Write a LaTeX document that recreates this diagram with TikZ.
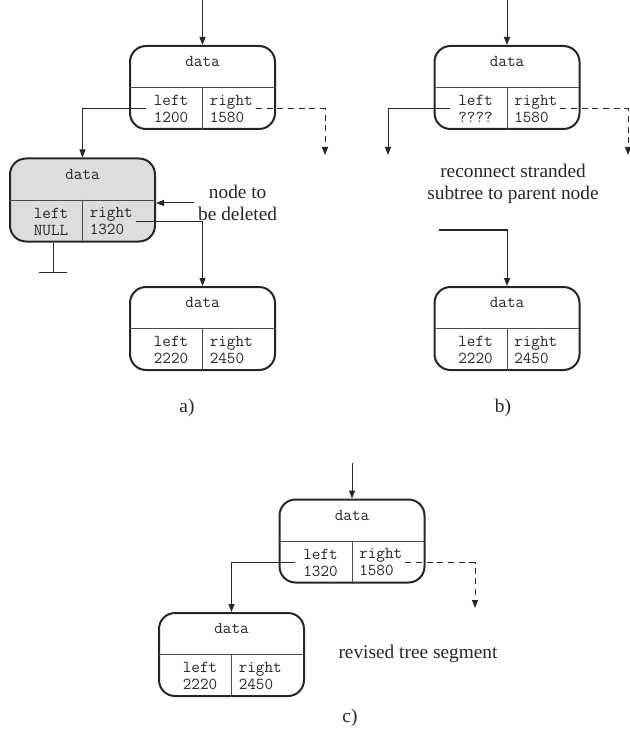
\documentclass[tikz,border=0pt]{standalone}
\usepackage{fontspec}
\setmainfont{Liberation Serif}
\usepackage{tikz}
\usetikzlibrary{arrows.meta}
\definecolor{boxgray}{RGB}{220,221,223}
\tikzset{
  rec/.style={draw=black!85,line width=1.5pt,rounded corners=12pt,minimum width=108.75pt,minimum height=62.25pt,inner sep=0pt},
  div/.style={draw=black!70,line width=0.6pt},
  cell/.style={font=\fontsize{12.5}{12.75}\selectfont\ttfamily,align=left,inner ysep=1pt,text=black!85},
  ptr/.style={draw=black!85,line width=0.75pt,-{Triangle[length=6pt,width=4.5pt]}},
  note/.style={font=\fontsize{14.5}{16}\selectfont,align=center,text=black!85}
}

\begin{document}
\begin{tikzpicture}[x=0.75pt,y=-0.75pt]
\useasboundingbox (0,0) rectangle (630,745);
\foreach \n/\x/\y/\l/\r/\f in {a1/202.5/87.5/1200/1580/white, a2/82.5/200/NULL/1320/boxgray, a3/202.5/328.5/2220/2450/white, b1/507/87.5/????/1580/white, b3/507/328.5/2220/2450/white, c1/352/541/1320/1580/white, c2/231.5/654.5/2220/2450/white}{
  \node[rec,fill=\f] (\n) at (\x,\y) {};
  \draw[div] (\n.west) -- (\n.east) (\n.center) -- (\n.south);
  \node[cell] (\n-d) at ([yshift=-12.4pt]\n.north) {data};
  \node[cell,anchor=east,inner xsep=6pt] (\n-l) at ([shift={(-6,21.5)}]\n.center) {left\\\l};
  \node[cell,anchor=west,inner xsep=2.25pt] (\n-r) at ([shift={(4,21.5)}]\n.center) {right\\\r};
}

\coordinate (a0) at (202.5,0);
\coordinate (a1x) at (325,155);
\coordinate (gnd) at (53,272);
\draw[ptr] (a0) -- (a1);
\draw[ptr] (a1-l.west) -| (a2.north);
\draw[ptr,dashed,dash pattern=on 4.5pt off 3.5pt] (a1-r.east) -| (a1x);
\node[note,anchor=west] (del) at (193.5,203) {node to\\be deleted};
\draw[ptr] (del.west) -- (del.west -| a2.east);
\draw[ptr] (a2-r.east) -| (a3.north);
\draw[div,draw=black!85] (gnd |- a2.south) -- (gnd) ++(-14,0) -- ++(28,0);
\node[note] (la) at (187,408) {a)};

\coordinate (b0) at (507,0);
\coordinate (bl) at (388,155);
\coordinate (br) at (628,155);
\coordinate (bs) at (439,230);
\draw[ptr] (b0) -- (b1);
\draw[ptr] (b1-l.west) -| (bl);
\draw[ptr,dashed,dash pattern=on 4.5pt off 3.5pt] (b1-r.east) -| (br);
\node[note] (recon) at (513,184) {reconnect stranded\\subtree to parent node};
\draw[ptr] (bs) -| (b3.north);
\node[note] (lb) at (503,408) {b)};

\coordinate (c0) at (352,463);
\coordinate (cr) at (475,608);
\draw[ptr] (c0) -- (c1);
\draw[ptr] (c1-l.west) -| (c2.north);
\draw[ptr,dashed,dash pattern=on 4.5pt off 3.5pt] (c1-r.east) -| (cr);
\node[note] (rev) at (418,654) {revised tree segment};
\node[note] (lc) at (350,718) {c)};
\end{tikzpicture}
\end{document}
